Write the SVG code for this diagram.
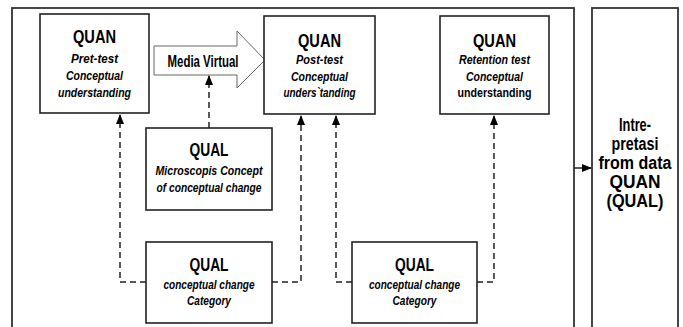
<svg xmlns="http://www.w3.org/2000/svg" width="683" height="327" viewBox="0 0 683 327">
<defs>
<style>
.box{fill:#fff;stroke:#222;stroke-width:1.6}
.frame{fill:none;stroke:#333;stroke-width:1.8}
.dash{fill:none;stroke:#222;stroke-width:1.5;stroke-dasharray:6,4}
.solid{fill:none;stroke:#222;stroke-width:1.5}
text{font-family:"Liberation Sans Narrow","Arial Narrow","Liberation Sans",sans-serif;text-anchor:middle;fill:#000}
.h{font-size:19px;font-weight:bold}
.i{font-size:13.5px;font-weight:bold;font-style:italic}
.u{font-size:13.5px;font-weight:bold}
.m{font-size:16px;font-weight:bold}
.r{font-size:18px;font-weight:bold}
</style>
<marker id="ah" markerWidth="10" markerHeight="10" refX="9" refY="5" orient="auto" markerUnits="userSpaceOnUse">
<path d="M0,1 L10,5 L0,9 Z" fill="#000"/>
</marker>
</defs>
<rect class="frame" x="12" y="8" width="562" height="330"/>
<g id="connectors">
<path class="dash" d="M209,128 V76" marker-end="url(#ah)"/>
<path class="dash" d="M146,282 H120 V115" marker-end="url(#ah)"/>
<path class="dash" d="M272,282 H301 V116" marker-end="url(#ah)"/>
<path class="dash" d="M352,282 H336 V116" marker-end="url(#ah)"/>
<path class="dash" d="M477,282 H494 V116" marker-end="url(#ah)"/>
<path class="solid" d="M574,168 H591" marker-end="url(#ah)"/>
</g>
<g id="pretest">
<rect class="box" x="40" y="14" width="109" height="99"/>
<text class="h" x="94.5" y="43" textLength="43" lengthAdjust="spacingAndGlyphs">QUAN</text>
<text class="i" x="94.5" y="63" textLength="47" lengthAdjust="spacingAndGlyphs">Pret-test</text>
<text class="i" x="94.5" y="80" textLength="57" lengthAdjust="spacingAndGlyphs">Conceptual</text>
<text class="i" x="94.5" y="97" textLength="73" lengthAdjust="spacingAndGlyphs">understanding</text>
</g>
<g id="media">
<polygon points="154,46 237,46 237,31 265,60 237,88 237,75 154,75" fill="#fff" stroke="#666" stroke-width="1"/>
<text class="m" x="203" y="67" textLength="71" lengthAdjust="spacingAndGlyphs">Media Virtual</text>
</g>
<g id="posttest">
<rect class="box" x="264" y="16" width="111" height="98"/>
<text class="h" x="319.5" y="47" textLength="43" lengthAdjust="spacingAndGlyphs">QUAN</text>
<text class="i" x="319.5" y="64" textLength="47" lengthAdjust="spacingAndGlyphs">Post-test</text>
<text class="i" x="319.5" y="81" textLength="57" lengthAdjust="spacingAndGlyphs">Conceptual</text>
<text class="i" x="319.5" y="97" textLength="72" lengthAdjust="spacingAndGlyphs">unders`tanding</text>
</g>
<g id="retention">
<rect class="box" x="440" y="16" width="109" height="98"/>
<text class="h" x="494.5" y="47" textLength="43" lengthAdjust="spacingAndGlyphs">QUAN</text>
<text class="i" x="494.5" y="64" textLength="71" lengthAdjust="spacingAndGlyphs">Retention test</text>
<text class="i" x="494.5" y="81" textLength="57" lengthAdjust="spacingAndGlyphs">Conceptual</text>
<text class="u" x="494.5" y="97" textLength="74" lengthAdjust="spacingAndGlyphs">understanding</text>
</g>
<g id="microscopis">
<rect class="box" x="146" y="128" width="126" height="82"/>
<text class="h" x="209" y="156" textLength="39" lengthAdjust="spacingAndGlyphs">QUAL</text>
<text class="i" x="209" y="175" textLength="107" lengthAdjust="spacingAndGlyphs">Microscopis Concept</text>
<text class="i" x="209" y="192" textLength="105" lengthAdjust="spacingAndGlyphs">of conceptual change</text>
</g>
<g id="category1">
<rect class="box" x="146" y="242" width="126" height="81"/>
<text class="h" x="209" y="271" textLength="39" lengthAdjust="spacingAndGlyphs">QUAL</text>
<text class="i" x="209" y="289" textLength="91" lengthAdjust="spacingAndGlyphs">conceptual change</text>
<text class="i" x="209" y="305" textLength="44" lengthAdjust="spacingAndGlyphs">Category</text>
</g>
<g id="category2">
<rect class="box" x="352" y="242" width="125" height="81"/>
<text class="h" x="414.5" y="271" textLength="39" lengthAdjust="spacingAndGlyphs">QUAL</text>
<text class="i" x="414.5" y="289" textLength="91" lengthAdjust="spacingAndGlyphs">conceptual change</text>
<text class="i" x="414.5" y="305" textLength="44" lengthAdjust="spacingAndGlyphs">Category</text>
</g>
<g id="interpretasi">
<rect class="frame" x="592" y="8" width="86" height="330"/>
<text class="r" x="635" y="131" textLength="32" lengthAdjust="spacingAndGlyphs">Intre-</text>
<text class="r" x="635" y="150" textLength="47" lengthAdjust="spacingAndGlyphs">pretasi</text>
<text class="r" x="635" y="169" textLength="73" lengthAdjust="spacingAndGlyphs">from data</text>
<text class="r" x="635" y="188" textLength="51" lengthAdjust="spacingAndGlyphs">QUAN</text>
<text class="r" x="635" y="207" textLength="57" lengthAdjust="spacingAndGlyphs">(QUAL)</text>
</g>
</svg>
